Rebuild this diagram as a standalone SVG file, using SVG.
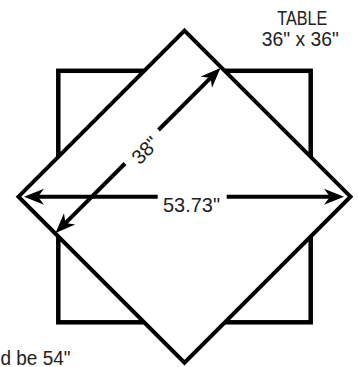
<svg xmlns="http://www.w3.org/2000/svg" width="358" height="367" viewBox="0 0 358 367">
<style>
.shape{stroke:#000;stroke-width:4;fill:#fff;stroke-linejoin:miter}
.dim{stroke:#000;stroke-width:4;fill:none}
.lbl{font-family:"Liberation Sans",Arial,sans-serif;fill:#222}
</style>
<defs>
<marker id="ah" viewBox="-21 -9 22 18" markerWidth="22" markerHeight="18" refX="-14" refY="0" orient="auto" markerUnits="userSpaceOnUse">
<path d="M0,0 L-20,-8 L-14,0 L-20,8 Z" fill="#000"/>
</marker>
</defs>
<rect width="358" height="367" fill="#fff"/>
<g id="table">
<rect class="shape" x="58.3" y="70.8" width="252.4" height="251.5" style="stroke-width:4.5"/>
</g>
<g id="cloth">
<polygon class="shape" points="184.5,30.7 350.5,196.7 184.5,362.7 18.5,196.7"/>
</g>
<g id="connectors">
<line class="dim" x1="157.7" y1="196.7" x2="38" y2="196.7" marker-end="url(#ah)"/>
<line class="dim" x1="226.7" y1="196.7" x2="330" y2="196.7" marker-end="url(#ah)"/>
<line class="dim" x1="158.5" y1="130" x2="210.6" y2="77.9" marker-end="url(#ah)"/>
<line class="dim" x1="125" y1="163.5" x2="65.4" y2="223.1" marker-end="url(#ah)"/>
</g>
<g id="labels">
<text class="lbl" x="191.5" y="212" font-size="21" text-anchor="middle" textLength="57" lengthAdjust="spacingAndGlyphs">53.73"</text>
<text class="lbl" transform="translate(144.7,149.7) rotate(-45)" y="7.5" font-size="20" text-anchor="middle">38"</text>
<text class="lbl" x="302.3" y="24.5" font-size="20" text-anchor="middle" textLength="50" lengthAdjust="spacingAndGlyphs">TABLE</text>
<text class="lbl" x="300.3" y="46" font-size="20" text-anchor="middle" textLength="77" lengthAdjust="spacingAndGlyphs">36" x 36"</text>
<text class="lbl" x="0.5" y="364.5" font-size="19.5" textLength="70" lengthAdjust="spacingAndGlyphs">d be 54"</text>
</g>
</svg>
